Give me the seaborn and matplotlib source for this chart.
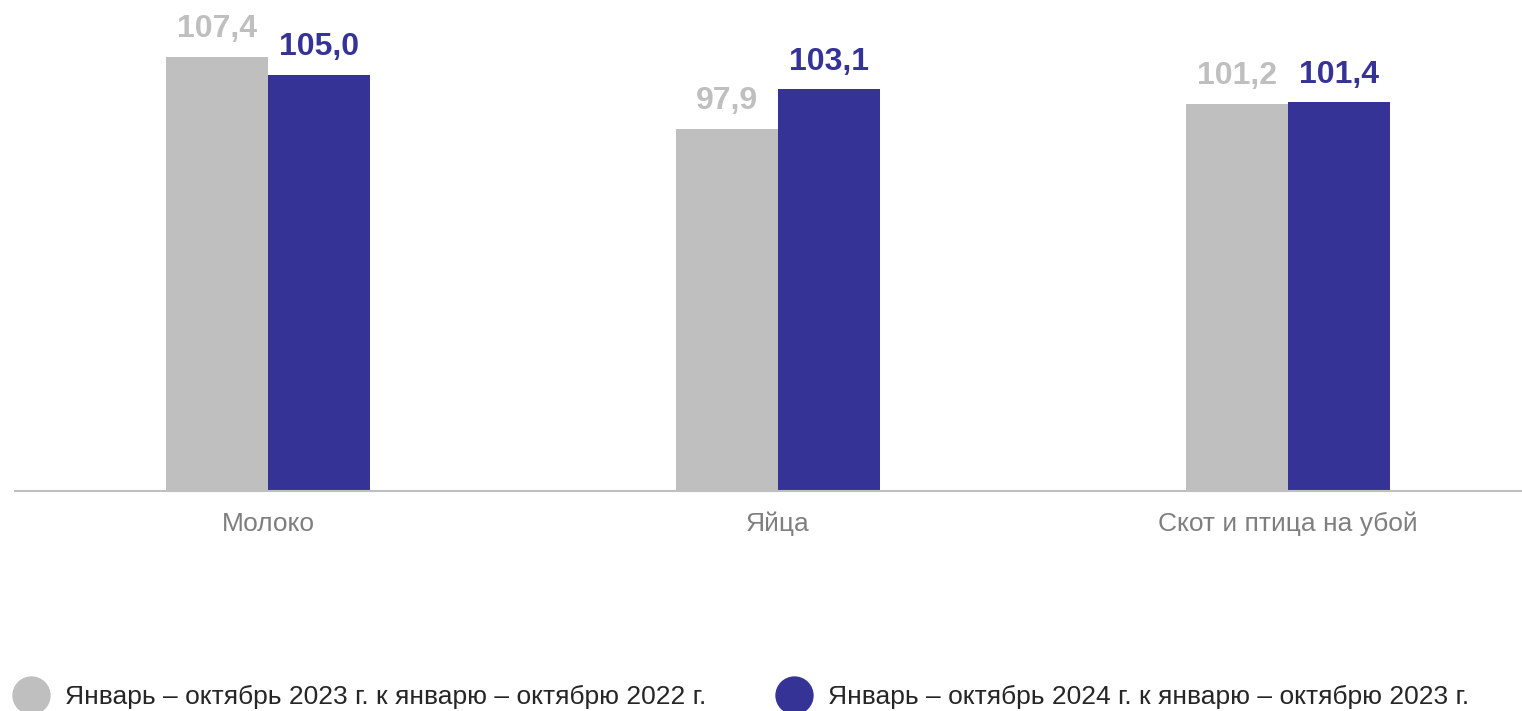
import numpy as np
import pandas as pd
import matplotlib
matplotlib.use('Agg')
import matplotlib.pyplot as plt
from matplotlib.lines import Line2D
import seaborn as sns

# ----------------------------------------------------------------------------
# Data

categories = ['Молоко', 'Яйца', 'Скот и птица на убой']
series_names = ['Январь – октябрь 2023 г. к январю – октябрю 2022 г.',
                'Январь – октябрь 2024 г. к январю – октябрю 2023 г.']
values_2023 = [107.4, 97.9, 101.2]
values_2024 = [105.0, 103.1, 101.4]

colors = ['#BFBFBF', '#353395']

# ----------------------------------------------------------------------------

df = pd.DataFrame({
    'category': categories * 2,
    'series': [series_names[0]] * 3 + [series_names[1]] * 3,
    'value': values_2023 + values_2024,
})

sns.set_theme(style='white')
plt.rcParams['font.family'] = ['Liberation Sans', 'DejaVu Sans']

W, H = 1522, 711
fig = plt.figure(figsize=(W / 100, H / 100), dpi=100)
ax = fig.add_axes([15 / W, 220 / H, 1507 / W, 491 / H])

sns.barplot(data=df, x='category', y='value', hue='series',
            palette=colors, width=0.4, saturation=1, linewidth=0,
            ax=ax, legend=False)

ax.set_ylim(50, 114.9)
ax.set_xlim(-0.496, 2.459)

for cont, col in zip(ax.containers, colors):
    labels = [format(v, '.1f').replace('.', ',') for v in cont.datavalues]
    ax.bar_label(cont, labels=labels, color=col, fontsize=23,
                 fontweight='bold', padding=9)

for side in ['left', 'right', 'top']:
    ax.spines[side].set_visible(False)
ax.spines['bottom'].set_color('#BFBFBF')
ax.spines['bottom'].set_linewidth(1.5)
ax.set_yticks([])
ax.set_xlabel('')
ax.set_ylabel('')
ax.tick_params(axis='x', length=0, pad=15, labelsize=19, labelcolor='#7F7F7F')

handles = [Line2D([], [], linestyle='none', marker='o', markersize=26.6,
                  markerfacecolor=c, markeredgecolor=c) for c in colors]
fig.legend(handles, series_names, loc='center left',
           bbox_to_anchor=(12.5 / W, 14 / H), ncol=2, frameon=False,
           fontsize=19, labelcolor='#262626', handlelength=1.4,
           handletextpad=0.59, columnspacing=2.62, borderpad=0,
           borderaxespad=0)

plt.savefig('out.png', dpi=100, facecolor='white')
plt.close(fig)
